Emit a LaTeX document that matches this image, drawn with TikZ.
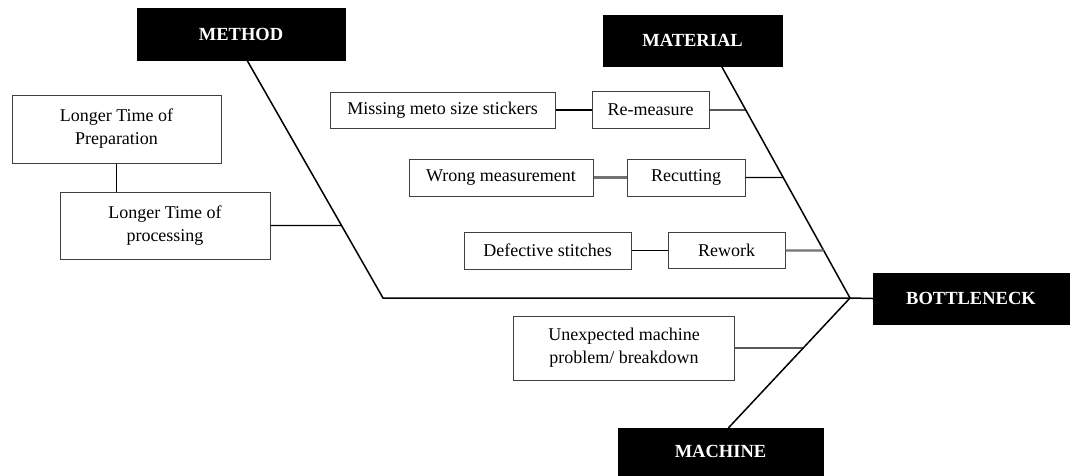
\documentclass[tikz,border=0pt]{standalone}
\usepackage{fontspec}
\setmainfont{Liberation Serif}
\usepackage{tikz}

\begin{document}
\begin{tikzpicture}[x=1pt,y=-1pt]
        \tikzset{head/.style = {fill=black,draw=black,text=white,inner sep=0pt,font=\fontsize{18.5}{20}\selectfont\bfseries}}
        \tikzset{cause/.style = {draw=black!75,line width=1pt,fill=white,align=center,inner sep=0pt,font=\fontsize{18}{23}\selectfont}}
        \tikzset{bone/.style = {line width=1.5pt}}
        \tikzset{link/.style = {line width=1.3pt}}
        \tikzset{glink/.style = {line width=2.4pt,draw=black!55}}

        \useasboundingbox (0,0) rectangle (1070,475);

        % heads
        \foreach \n/\x/\y/\w/\h/\t in {method/241/34/208/52/METHOD,
                                       material/692.5/40.5/179/51/MATERIAL,
                                       bottleneck/971/298.5/196/51/BOTTLENECK,
                                       machine/720.5/451.5/205/47/MACHINE}
            \node[head,minimum width=\w,minimum height=\h] (\n) at (\x,\y) {\t};

        % causes
        \node[cause,minimum width=209,minimum height=68] (prep) at (116.5,129) {Longer Time of\\Preparation};
        \node[cause,minimum width=210,minimum height=67] (proc) at (165,225.5) {Longer Time of\\processing};
        \node[cause,minimum width=225,minimum height=36] (missing) at (442.5,110) {Missing meto size stickers};
        \node[cause,minimum width=117,minimum height=37] (remeasure) at (650.5,110) {Re-measure};
        \node[cause,minimum width=184,minimum height=37] (wrong) at (501,177.5) {Wrong measurement};
        \node[cause,minimum width=118,minimum height=37] (recut) at (686,177.5) {Recutting};
        \node[cause,minimum width=167,minimum height=37] (defect) at (547.5,250.5) {Defective stitches};
        \node[cause,minimum width=117,minimum height=36] (rework) at (726.5,250.5) {Rework};
        \node[cause,minimum width=221,minimum height=64] (unexp) at (624,348) {Unexpected machine\\problem/ breakdown};

        % bones
        \coordinate (tail) at (383,298);
        \coordinate (spine) at (850,298);
        \coordinate (m0) at ([xshift=6pt]method.south);
        \coordinate (m1) at ([xshift=29pt]material.south);
        \coordinate (m2) at ([xshift=8pt]machine.north);
        \draw[bone] (m0) -- (tail) -- (spine) -- (bottleneck.west);
        \draw[bone] (m1) -- (spine) -- (m2);

        %links
        \draw[link] (prep.south) -- (prep.south |- proc.north);
        \draw[link] (proc.east) -- (intersection of proc.east--proc.west and m0--tail);
        \draw[link] (missing) -- (remeasure);
        \draw[link] (remeasure.east) -- (intersection of remeasure.east--remeasure.west and m1--spine);
        \draw[glink] (wrong) -- (recut);
        \draw[link] (recut.east) -- (intersection of recut.east--recut.west and m1--spine);
        \draw[link] (defect) -- (rework);
        \draw[glink] (rework.east) -- (intersection of rework.east--rework.west and m1--spine);
        \draw[link] (unexp.east) -- (intersection of unexp.east--unexp.west and spine--m2);

\end{tikzpicture}
\end{document}
